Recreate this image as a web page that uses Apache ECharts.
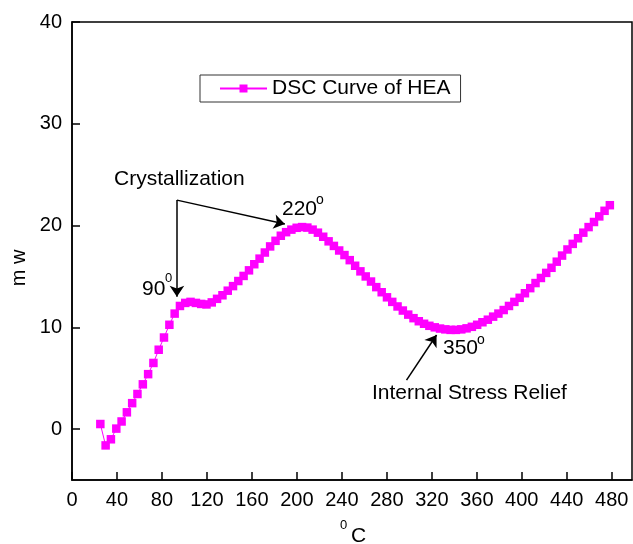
<!DOCTYPE html>
<html>
<head>
<meta charset="utf-8">
<script src="https://cdn.jsdelivr.net/npm/echarts@6/dist/echarts.min.js"></script>
<style>html,body{margin:0;padding:0;background:#fff}#c{width:633px;height:544px}</style>
</head>
<body>
<div id="c"></div>
<script>
const temps = [25.2, 29.9, 34.6, 39.4, 44.1, 48.8, 53.5, 58.2, 63.0, 67.7, 72.4, 77.1, 81.8, 86.6, 91.3, 96.0, 100.7, 105.4, 110.2, 114.9, 119.6, 124.3, 129.0, 133.8, 138.5, 143.2, 147.9, 152.6, 157.4, 162.1, 166.8, 171.5, 176.2, 181.0, 185.7, 190.4, 195.1, 199.8, 204.6, 209.3, 214.0, 218.7, 223.4, 228.2, 232.9, 237.6, 242.3, 247.0, 251.8, 256.5, 261.2, 265.9, 270.6, 275.4, 280.1, 284.8, 289.5, 294.2, 299.0, 303.7, 308.4, 313.1, 317.8, 322.6, 327.3, 332.0, 336.7, 341.4, 346.2, 350.9, 355.6, 360.3, 365.0, 369.8, 374.5, 379.2, 383.9, 388.6, 393.4, 398.1, 402.8, 407.5, 412.2, 417.0, 421.7, 426.4, 431.1, 435.8, 440.6, 445.3, 450.0, 454.7, 459.4, 464.2, 468.9, 473.6, 478.3];
const dsc = [0.5, -1.6, -1.0, 0.05, 0.75, 1.65, 2.55, 3.45, 4.4, 5.4, 6.5, 7.8, 9.0, 10.25, 11.35, 12.1, 12.4, 12.5, 12.4, 12.3, 12.25, 12.45, 12.8, 13.15, 13.6, 14.05, 14.55, 15.05, 15.6, 16.2, 16.75, 17.35, 17.95, 18.5, 19.0, 19.35, 19.6, 19.78, 19.85, 19.8, 19.6, 19.3, 18.9, 18.45, 18.0, 17.55, 17.1, 16.6, 16.05, 15.5, 15.0, 14.5, 13.95, 13.45, 12.95, 12.5, 12.05, 11.65, 11.25, 10.9, 10.6, 10.35, 10.15, 10.0, 9.88, 9.8, 9.75, 9.75, 9.8, 9.9, 10.05, 10.25, 10.5, 10.75, 11.05, 11.35, 11.7, 12.1, 12.5, 12.9, 13.35, 13.85, 14.35, 14.85, 15.35, 15.85, 16.45, 17.05, 17.65, 18.2, 18.75, 19.3, 19.85, 20.35, 20.9, 21.45, 22.0];
const xTicks = [0, 40, 80, 120, 160, 200, 240, 280, 320, 360, 400, 440, 480];
const yTicks = [0, 10, 20, 30, 40];
const seriesName = 'DSC Curve of HEA';
// annotation arrows in data coordinates [x, y]
const arrowCryst1 = [[93.3, 22.5], [93.3, 13.0]];
const arrowCryst2 = [[93.3, 22.5], [189.3, 20.15]];
const arrowRelief = [[297.5, 4.82], [324.2, 9.25]];

const FONT = "'Liberation Sans', Arial, sans-serif";
const chart = echarts.init(document.getElementById('c'), null, {renderer: 'canvas'});
const axisCommon = {
  axisLine: {onZero: false, lineStyle: {color: '#000', width: 1.5}},
  axisTick: {inside: true, length: 8, lineStyle: {color: '#000', width: 1.5}},
  splitLine: {show: false},
  axisLabel: {color: '#000', fontSize: 20, fontFamily: FONT, margin: 10}
};
const mk = (a) => [{coord: a[0]}, {coord: a[1]}];
chart.setOption({
  animation: false,
  backgroundColor: '#fff',
  grid: {left: 72, right: 1, top: 22, bottom: 64, show: true, borderColor: '#000', borderWidth: 1.5, backgroundColor: 'transparent'},
  legend: {
    left: 200, top: 75,
    padding: [3, 10, 3, 19],
    borderColor: '#333', borderWidth: 1,
    itemWidth: 47, itemHeight: 10,
    textStyle: {fontSize: 21, fontFamily: FONT, color: '#000'},
    data: [seriesName]
  },
  xAxis: Object.assign({}, axisCommon, {
    type: 'value', min: 0, max: 498,
    axisLabel: Object.assign({}, axisCommon.axisLabel, {customValues: xTicks}),
    axisTick: Object.assign({}, axisCommon.axisTick, {customValues: xTicks})
  }),
  yAxis: Object.assign({}, axisCommon, {
    type: 'value', min: -5, max: 40,
    axisLabel: Object.assign({}, axisCommon.axisLabel, {customValues: yTicks}),
    axisTick: Object.assign({}, axisCommon.axisTick, {customValues: yTicks})
  }),
  series: [{
    name: seriesName,
    type: 'line',
    data: temps.map((t, i) => [t, dsc[i]]),
    symbol: 'rect',
    symbolSize: 8.5,
    itemStyle: {color: '#ff00ff'},
    lineStyle: {color: '#ff00ff', width: 1},
    markLine: {
      silent: true,
      symbol: ['none', 'arrow'],
      symbolSize: 11,
      label: {show: false},
      lineStyle: {color: '#000', width: 1.5, type: 'solid'},
      emphasis: {disabled: true},
      data: [mk(arrowCryst1), mk(arrowCryst2), mk(arrowRelief)]
    }
  }],
  graphic: [
    {type: 'text', left: 114, top: 169, style: {text: 'Crystallization', font: '21px ' + FONT, fill: '#000'}},
    {type: 'text', left: 142, top: 279, style: {text: '90', font: '21px ' + FONT, fill: '#000'}},
    {type: 'text', left: 165, top: 272, style: {text: '0', font: '13px ' + FONT, fill: '#000'}},
    {type: 'text', left: 282, top: 199, style: {text: '220', font: '21px ' + FONT, fill: '#000'}},
    {type: 'text', left: 316, top: 193, style: {text: 'o', font: '14px ' + FONT, fill: '#000'}},
    {type: 'text', left: 443, top: 338, style: {text: '350', font: '21px ' + FONT, fill: '#000'}},
    {type: 'text', left: 477, top: 333, style: {text: 'o', font: '14px ' + FONT, fill: '#000'}},
    {type: 'text', left: 372, top: 383, style: {text: 'Internal Stress Relief', font: '21px ' + FONT, fill: '#000'}},
    {type: 'text', left: 340, top: 519, style: {text: '0', font: '13px ' + FONT, fill: '#000'}},
    {type: 'text', left: 351, top: 526, style: {text: 'C', font: '21px ' + FONT, fill: '#000'}},
    {type: 'text', x: 19, y: 268, rotation: Math.PI / 2, style: {text: 'm w', font: '20px ' + FONT, fill: '#000', align: 'center', verticalAlign: 'middle'}}
  ]
});
</script>
</body>
</html>
